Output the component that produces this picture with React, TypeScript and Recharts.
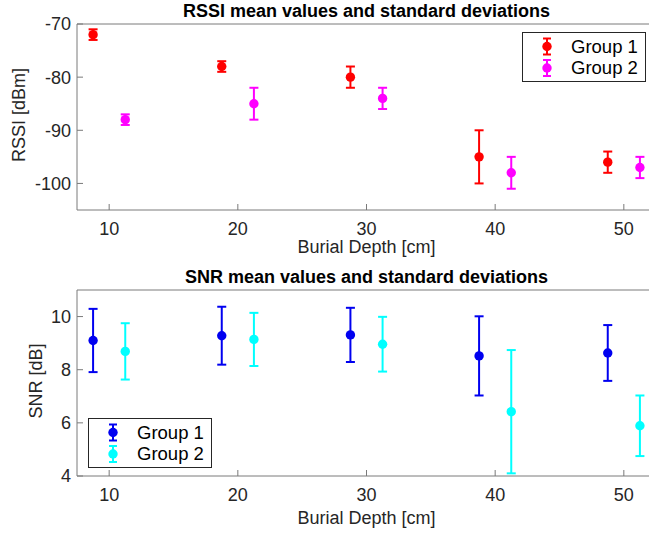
import React from 'react';
import { ScatterChart, Scatter, XAxis, YAxis, ErrorBar, Legend } from 'recharts';

// burial depth positions (groups are offset around the nominal depth)
const depthGroup1 = [8.75, 18.75, 28.75, 38.75, 48.75];
const depthGroup2 = [11.25, 21.25, 31.25, 41.25, 51.25];
const depthTicks = [10, 20, 30, 40, 50];

const rssiGroup1 = [-72, -78, -80, -95, -96];
const rssiGroup1Std = [1, 1, 2, 5, 2];
const rssiGroup2 = [-88, -85, -84, -98, -97];
const rssiGroup2Std = [1, 3, 2, 3, 2];
const rssiTicks = [-100, -90, -80, -70];

const snrGroup1 = [9.1, 9.28, 9.31, 8.52, 8.63];
const snrGroup1Std = [1.19, 1.09, 1.02, 1.49, 1.05];
const snrGroup2 = [8.69, 9.14, 8.96, 6.42, 5.89];
const snrGroup2Std = [1.06, 1.0, 1.03, 2.32, 1.14];
const snrTicks = [4, 6, 8, 10];

const groupNames = ['Group 1', 'Group 2'];

const FONT = 'Arial, "Liberation Sans", Helvetica, sans-serif';
const TEXT = '#262626';
const AXIS = '#7a7a7a';

type Row = { x: number; y: number; err: number };
type Series = { name: string; color: string; data: Row[] };

const toRows = (xs: number[], ys: number[], errs: number[]): Row[] =>
  xs.map((x, i) => ({ x, y: ys[i], err: errs[i] }));

function LegendBox({ series }: { series: Series[] }) {
  return (
    <svg width={124} height={50} style={{ display: 'block' }}>
      <rect x={0.5} y={0.5} width={123} height={49} fill="#fff" stroke={TEXT} strokeWidth={1} />
      {series.map((s, i) => {
        const cy = 14.5 + i * 21.5;
        return (
          <g key={s.name}>
            <line x1={25} x2={25} y1={cy - 8} y2={cy + 8} stroke={s.color} strokeWidth={2} />
            <line x1={21} x2={29} y1={cy - 8} y2={cy - 8} stroke={s.color} strokeWidth={2} />
            <line x1={21} x2={29} y1={cy + 8} y2={cy + 8} stroke={s.color} strokeWidth={2} />
            <circle cx={25} cy={cy} r={4.7} fill={s.color} />
            <text x={49} y={cy} dy="0.35em" fontSize={18.5} fontFamily={FONT} fill="#000">
              {s.name}
            </text>
          </g>
        );
      })}
    </svg>
  );
}

interface PanelProps {
  title: string;
  yLabel: string;
  yLabelX: number;
  xLabelDy: number;
  domain: [number, number];
  ticks: number[];
  series: Series[];
  legendLeft: number;
  legendTop: number;
}

function Panel({ title, yLabel, yLabelX, xLabelDy, domain, ticks, series, legendLeft, legendTop }: PanelProps) {
  return (
    <ScatterChart width={660} height={268} margin={{ top: 0, right: 4, left: 0, bottom: 0 }}>
      <XAxis
        xAxisId="top"
        orientation="top"
        type="number"
        dataKey="x"
        domain={[7.5, 52.5]}
        ticks={depthTicks}
        height={24}
        tick={false}
        tickSize={-6}
        stroke={AXIS}
        label={(p: any) => {
          const vb = p.viewBox || {};
          return (
            <text x={vb.x + vb.width / 2} y={11} dominantBaseline="central" textAnchor="middle"
              fontSize={18} fontWeight="bold" fontFamily={FONT} fill="#000">
              {title}
            </text>
          );
        }}
      />
      <XAxis
        type="number"
        dataKey="x"
        domain={[7.5, 52.5]}
        ticks={depthTicks}
        height={58}
        tickSize={-6}
        tickMargin={18}
        stroke={AXIS}
        tick={{ fill: TEXT, fontSize: 18, fontFamily: FONT }}
        label={(p: any) => {
          const vb = p.viewBox || {};
          return (
            <text x={vb.x + vb.width / 2} y={vb.y + xLabelDy} dominantBaseline="central" textAnchor="middle"
              fontSize={18} fontFamily={FONT} fill={TEXT}>
              Burial Depth [cm]
            </text>
          );
        }}
      />
      <YAxis
        type="number"
        dataKey="y"
        domain={domain}
        ticks={ticks}
        width={77}
        tickSize={-6}
        tickMargin={12}
        stroke={AXIS}
        tick={{ fill: TEXT, fontSize: 18, fontFamily: FONT }}
        label={(p: any) => {
          const vb = p.viewBox || {};
          const cy = vb.y + vb.height / 2 - 2;
          return (
            <text transform={`translate(${yLabelX}, ${cy}) rotate(-90)`} dominantBaseline="central"
              textAnchor="middle" fontSize={18} fontFamily={FONT} fill={TEXT}>
              {yLabel}
            </text>
          );
        }}
      />
      {series.map((s) => (
        <Scatter
          key={s.name}
          name={s.name}
          data={s.data}
          fill={s.color}
          isAnimationActive={false}
          shape={(p: any) => <circle cx={p.cx} cy={p.cy} r={4.7} fill={s.color} />}
        >
          <ErrorBar dataKey="err" direction="y" width={4.5} strokeWidth={2} stroke={s.color} />
        </Scatter>
      ))}
      <Legend
        layout="vertical"
        align="center"
        verticalAlign="middle"
        wrapperStyle={{ left: legendLeft, top: legendTop, width: 124, height: 50 }}
        content={() => <LegendBox series={series} />}
      />
    </ScatterChart>
  );
}

export default function App() {
  const rssiSeries: Series[] = [
    { name: groupNames[0], color: '#ff0000', data: toRows(depthGroup1, rssiGroup1, rssiGroup1Std) },
    { name: groupNames[1], color: '#ff00ff', data: toRows(depthGroup2, rssiGroup2, rssiGroup2Std) },
  ];
  const snrSeries: Series[] = [
    { name: groupNames[0], color: '#0000f0', data: toRows(depthGroup1, snrGroup1, snrGroup1Std) },
    { name: groupNames[1], color: '#00ffff', data: toRows(depthGroup2, snrGroup2, snrGroup2Std) },
  ];

  return (
    <div style={{ position: 'absolute', left: 0, top: 0, width: 649, height: 534, overflow: 'hidden', background: '#fff' }}>
      <div style={{ position: 'absolute', left: 0, top: 0 }}>
        <Panel
          title="RSSI mean values and standard deviations"
          yLabel="RSSI [dBm]"
          yLabelX={19}
          xLabelDy={37}
          domain={[-105, -70]}
          ticks={rssiTicks}
          series={rssiSeries}
          legendLeft={522}
          legendTop={32}
        />
      </div>
      <div style={{ position: 'absolute', left: 0, top: 266 }}>
        <Panel
          title="SNR mean values and standard deviations"
          yLabel="SNR [dB]"
          yLabelX={35.5}
          xLabelDy={42}
          domain={[4, 11]}
          ticks={snrTicks}
          series={snrSeries}
          legendLeft={88}
          legendTop={152}
        />
      </div>
    </div>
  );
}
